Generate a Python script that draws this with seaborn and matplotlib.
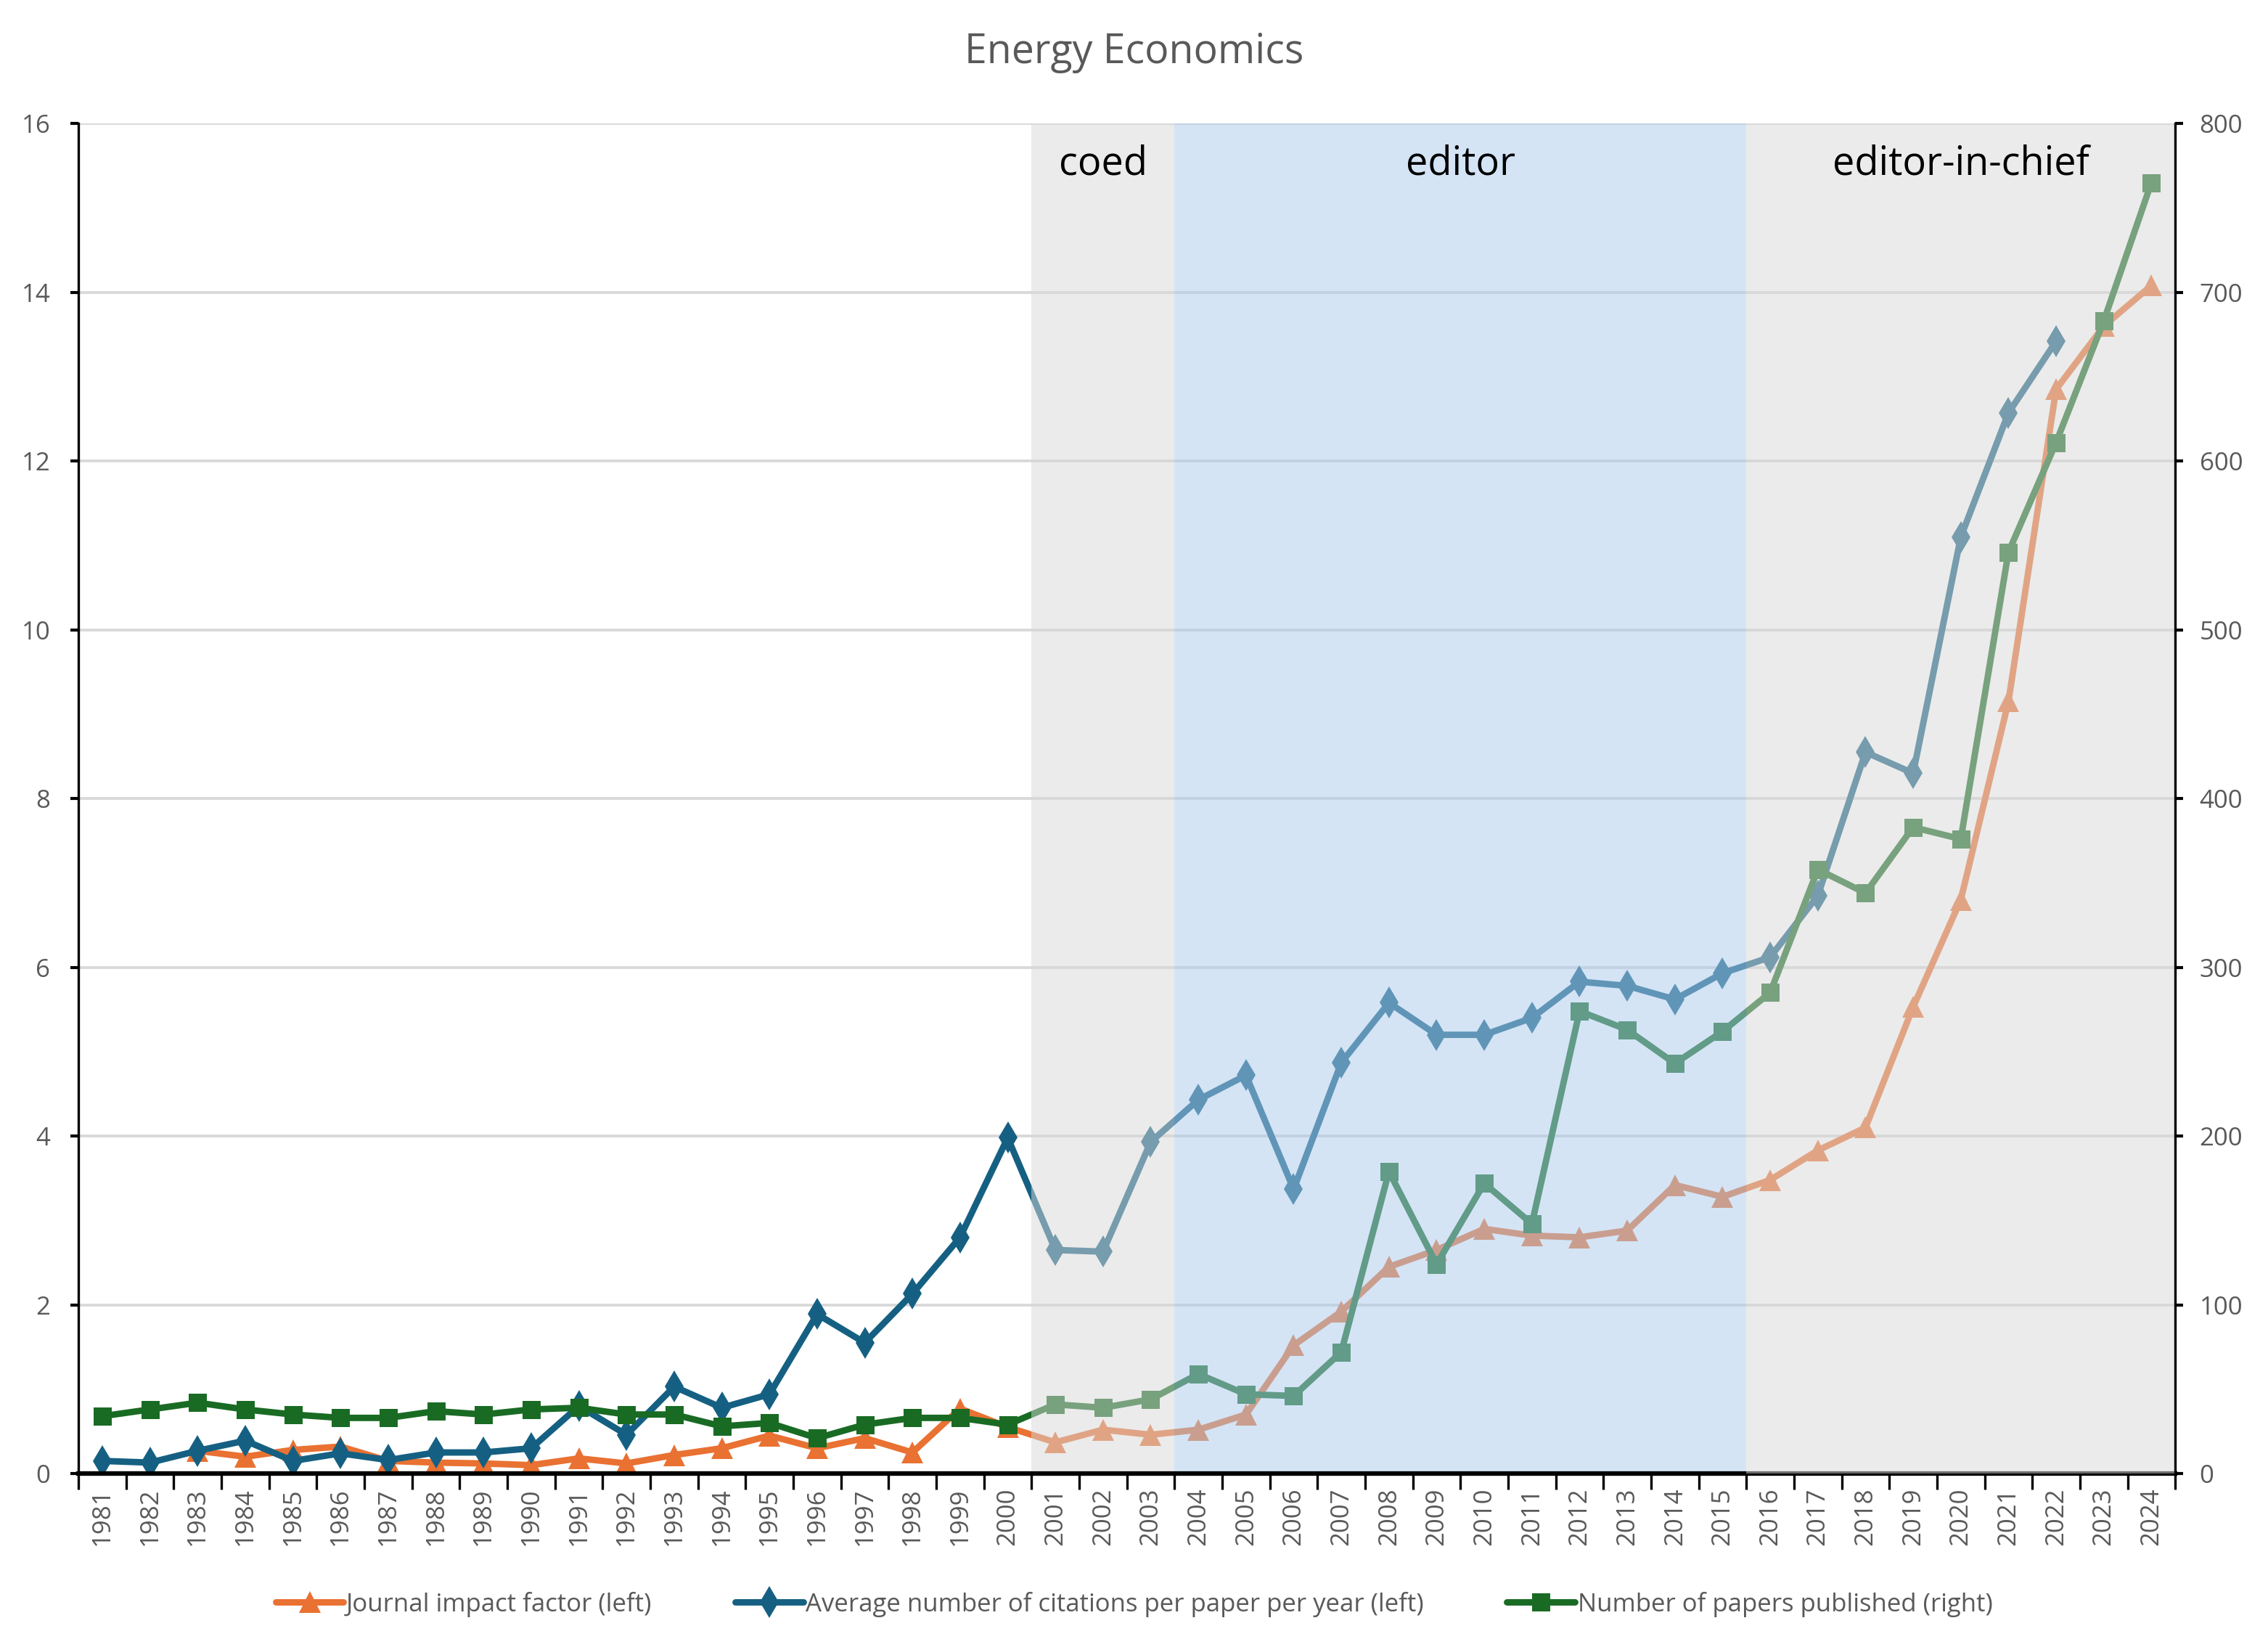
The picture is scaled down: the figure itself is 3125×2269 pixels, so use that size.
import matplotlib
matplotlib.use("Agg")
import matplotlib.pyplot as plt
import seaborn as sns
import numpy as np
import pandas as pd

# ---------------- data ----------------
years = list(range(1981, 2025))

jif_years = list(range(1983, 2025))
jif = [0.27, 0.2, 0.28, 0.32, 0.15, 0.13, 0.12, 0.1, 0.18, 0.12,
       0.22, 0.3, 0.45, 0.3, 0.42, 0.25, 0.77, 0.55, 0.37, 0.52,
       0.46, 0.52, 0.7, 1.52, 1.92, 2.45, 2.65, 2.9, 2.82, 2.8,
       2.88, 3.42, 3.28, 3.48, 3.83, 4.1, 5.53, 6.8, 9.15, 12.85,
       13.6, 14.08]

cit_years = list(range(1981, 2023))
citations = [0.15, 0.13, 0.27, 0.39, 0.15, 0.24, 0.16, 0.25, 0.25, 0.3,
             0.8, 0.46, 1.03, 0.78, 0.94, 1.89, 1.55, 2.13, 2.8, 3.98,
             2.65, 2.63, 3.93, 4.43, 4.72, 3.37, 4.87, 5.58, 5.2, 5.2,
             5.4, 5.83, 5.78, 5.62, 5.93, 6.12, 6.85, 8.55, 8.3, 11.1,
             12.57, 13.42]

papers = [34, 38, 42, 38, 35, 33, 33, 37, 35, 38,
          39, 35, 35, 28, 30, 21, 29, 33, 33, 29,
          41, 39, 44, 59, 47, 46, 72, 179, 124, 172,
          148, 274, 263, 243, 262, 285, 358, 344, 383, 376,
          546, 611, 683, 765]

periods = ["coed", "editor", "editor-in-chief"]
period_start = [2000.5, 2003.5, 2015.5]
period_end = [2003.5, 2015.5, 2024.5]
period_colors = ["#d8d8d8", "#abcbec", "#d8d8d8"]

labels = ["Journal impact factor (left)",
          "Average number of citations per paper per year (left)",
          "Number of papers published (right)"]
title = "Energy Economics"

ORANGE = "#E97132"
BLUE = "#156082"
GREEN = "#196B24"
GREY_TXT = "#595959"

# ---------------- plot ----------------
sns.set_theme(style="white")
plt.rcParams["font.family"] = ["Open Sans", "DejaVu Sans"]

fig = plt.figure(figsize=(15.625, 11.345), dpi=200)
ax = fig.add_axes([0.0346, 0.1053, 0.9245, 0.8197])
ax2 = ax.twinx()

df_jif = pd.DataFrame({"year": jif_years, "v": jif})
df_cit = pd.DataFrame({"year": cit_years, "v": citations})
df_pap = pd.DataFrame({"year": years, "v": papers})

lw = 3.2
sns.lineplot(data=df_jif, x="year", y="v", ax=ax, color=ORANGE, linewidth=lw,
             marker="^", markersize=10.5, markeredgewidth=0, legend=False, zorder=3)
sns.lineplot(data=df_cit, x="year", y="v", ax=ax, color=BLUE, linewidth=lw,
             marker="d", markersize=11, markeredgewidth=0, legend=False, zorder=4)
sns.lineplot(data=df_pap, x="year", y="v", ax=ax2, color=GREEN, linewidth=lw,
             marker="s", markersize=9, markeredgewidth=0, legend=False, zorder=3)

ax.set_xlim(1980.5, 2024.5)
ax.set_ylim(0, 16)
ax2.set_ylim(0, 800)

# shading on top with transparency
span_z = [6, 6, 6.8]
for s, e, c, z in zip(period_start, period_end, period_colors, span_z):
    ax2.axvspan(s, e, color=c, alpha=0.5, lw=0, zorder=z)
for name, s, e in zip(periods, period_start, period_end):
    ax2.text((s + e) / 2, 776, name, ha="center", va="center",
             fontsize=19.5, color="black", zorder=9)
# dark baseline over the first shaded regions
ax2.plot([1980.5, period_start[2]], [0, 0], color="black", lw=2.2,
         zorder=6.5, clip_on=False, solid_capstyle="butt")

# axes styling
ax.set_xlabel("")
ax.set_ylabel("")
ax2.set_ylabel("")
ax.set_xticks(years)
ax.set_xticklabels([str(y) for y in years], rotation=90, fontsize=12.5, color=GREY_TXT)
ax.set_xticks(np.arange(1980.5, 2025, 1.0), minor=True)
ax.tick_params(axis="x", which="major", length=0, pad=7)
ax.tick_params(axis="x", which="minor", length=8, width=1.2, color="black", direction="out", bottom=True)

ax.set_yticks(np.arange(0, 17, 2))
ax.set_yticklabels([str(v) for v in range(0, 17, 2)], fontsize=12.5, color=GREY_TXT)
ax.tick_params(axis="y", length=4, width=1.5, color="black", direction="out", left=True, pad=10)
ax2.set_yticks(np.arange(0, 801, 100))
ax2.set_yticklabels([str(v) for v in range(0, 801, 100)], fontsize=12.5, color=GREY_TXT)
ax2.tick_params(axis="y", length=4, width=1.5, color="black", direction="out", right=True, pad=8)

ax.yaxis.grid(True, color="#d9d9d9", linewidth=1.4)
ax.xaxis.grid(False)
ax.set_axisbelow(True)

for a in (ax, ax2):
    a.spines["top"].set_visible(False)
    a.spines["left"].set_color("black")
    a.spines["right"].set_color("black")
    a.spines["bottom"].set_color("black")
ax.spines["left"].set_linewidth(1.2)
ax2.spines["right"].set_linewidth(1.2)
ax2.spines["right"].set_zorder(8)
ax.spines["bottom"].set_linewidth(2.2)
ax2.spines["bottom"].set_linewidth(2.2)
ax.spines["right"].set_visible(False)
ax2.spines["left"].set_visible(False)

fig.text(0.5, 0.968, title, ha="center", va="center", fontsize=20, color=GREY_TXT)

handles = [ax.lines[0], ax.lines[1], ax2.lines[0]]
fig.legend(handles, labels, loc="center", bbox_to_anchor=(0.5, 0.026), ncol=3,
           frameon=False, fontsize=12.5, labelcolor=GREY_TXT, handlelength=2.7,
           handletextpad=0.1, columnspacing=3.3)

fig.savefig("out.png", dpi=200)
